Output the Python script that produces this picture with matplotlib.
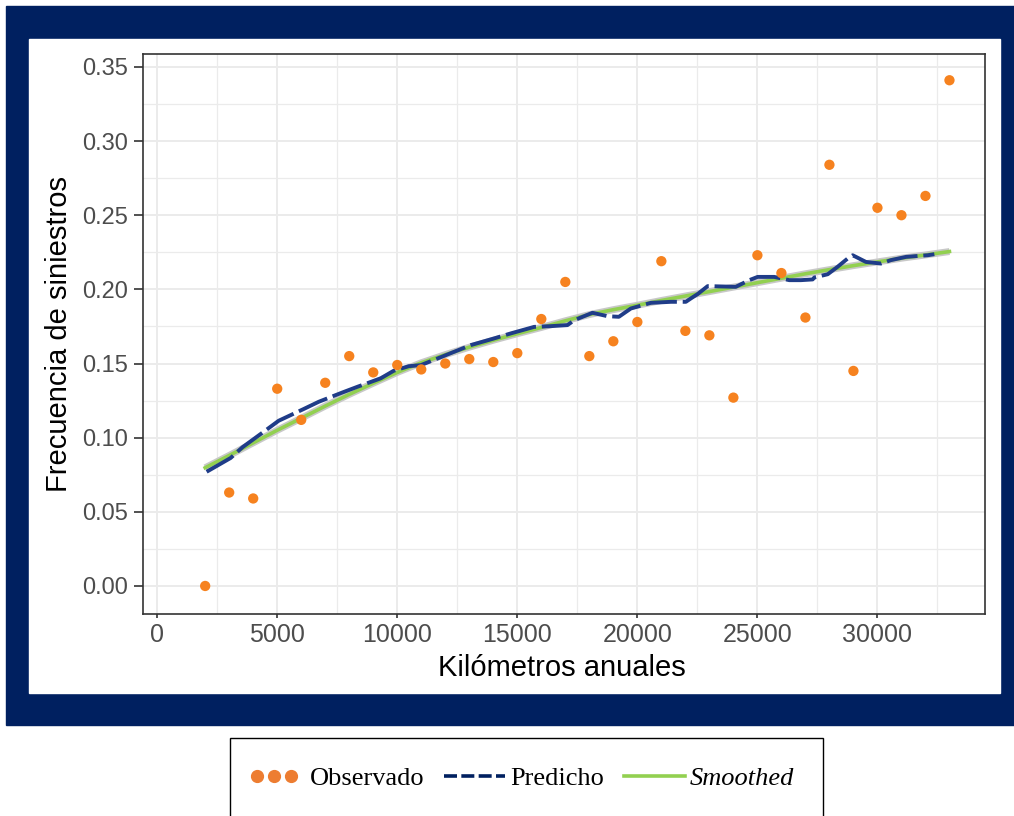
import matplotlib.pyplot as plt
from matplotlib.lines import Line2D
from matplotlib.patches import Rectangle
from matplotlib.legend_handler import HandlerLine2D

# observed frequency per km band
obs_km = [2000, 3000, 4000, 5000, 6000, 7000, 8000, 9000, 10000, 11000, 12000,
          13000, 14000, 15000, 16000, 17000, 18000, 19000, 20000, 21000, 22000,
          23000, 24000, 25000, 26000, 27000, 28000, 29000, 30000, 31000, 32000, 33000]
obs_freq = [0.000, 0.063, 0.059, 0.133, 0.112, 0.137, 0.155, 0.144, 0.149, 0.146, 0.150,
            0.153, 0.151, 0.157, 0.180, 0.205, 0.155, 0.165, 0.178, 0.219, 0.172,
            0.169, 0.127, 0.223, 0.211, 0.181, 0.284, 0.145, 0.255, 0.250, 0.263, 0.341]

# model prediction
pred_km = [2060, 3060, 3550, 4440, 5060, 6100, 6730, 7720, 8340, 9310, 9850, 10480,
           10980, 11680, 13060, 14030, 14730, 15700, 16400, 17090, 17370, 18130,
           18760, 19230, 19730, 20560, 21400, 22020, 22230, 22510, 22930, 24100,
           24660, 25010, 25700, 26330, 26810, 27300, 27370, 27930, 28340, 28760,
           28970, 29520, 30150, 30560, 31190, 32090, 32370]
pred_freq = [0.0770, 0.0863, 0.0935, 0.1040, 0.1114, 0.1193, 0.1242, 0.1305, 0.1343,
             0.1400, 0.1451, 0.1482, 0.1489, 0.1534, 0.1624, 0.1669, 0.1703, 0.1747,
             0.1752, 0.1759, 0.1792, 0.1842, 0.1819, 0.1815, 0.1871, 0.1909, 0.1916,
             0.1916, 0.1939, 0.1968, 0.2022, 0.2017, 0.2062, 0.2084, 0.2084, 0.2062,
             0.2062, 0.2067, 0.2080, 0.2102, 0.2152, 0.2208, 0.2230, 0.2185, 0.2174,
             0.2197, 0.2219, 0.2230, 0.2237]

# smoothed curve
smooth_km = [2000, 3000, 4000, 5000, 6000, 7000, 8000, 9000, 10000, 11000, 12000,
             13000, 14000, 15000, 16000, 17000, 18000, 19000, 20000, 21000, 22000,
             23000, 24000, 25000, 26000, 27000, 28000, 29000, 30000, 31000, 32000, 33000]
smooth_freq = [0.0797, 0.0880, 0.0965, 0.1050, 0.1131, 0.1213, 0.1292, 0.1367, 0.1440,
               0.1505, 0.1560, 0.1610, 0.1657, 0.1701, 0.1743, 0.1788, 0.1830, 0.1863,
               0.1893, 0.1925, 0.1955, 0.1985, 0.2015, 0.2045, 0.2075, 0.2105, 0.2133,
               0.2160, 0.2185, 0.2210, 0.2232, 0.2255]

x_ticks = [0, 5000, 10000, 15000, 20000, 25000, 30000]
y_ticks = [0.00, 0.05, 0.10, 0.15, 0.20, 0.25, 0.30, 0.35]

W, H = 1014, 816
fig = plt.figure(figsize=(W / 100, H / 100), dpi=100)

# navy frame and white inner panel
fig.patches.append(Rectangle((6 / W, 1 - 725 / H), 1 - 6 / W, (725 - 6) / H,
                             transform=fig.transFigure, color='#002060', zorder=-2))
fig.patches.append(Rectangle((29 / W, 1 - 693 / H), (1000 - 29) / W, (693 - 39) / H,
                             transform=fig.transFigure, color='white', zorder=-1))

ax = fig.add_axes([143 / W, 1 - 614 / H, (985 - 143) / W, (614 - 54) / H])
ax.set_zorder(3)
ax.set_facecolor('white')

ax.plot(smooth_km, smooth_freq, color='#c8c8c8', linewidth=5, solid_capstyle='butt', zorder=2)
ax.plot(smooth_km, smooth_freq, color='#92D050', linewidth=2.6, zorder=3)
ax.plot(pred_km, pred_freq, color='#1F3C88', linewidth=2.8, linestyle=(0, (8, 1.5)), zorder=4)
ax.scatter(obs_km, obs_freq, s=55, color='#F6821F', edgecolors='none', zorder=5)

ax.set_xlim(-590, 34480)
ax.set_ylim(-0.0189, 0.3587)
ax.set_xticks(x_ticks)
ax.set_yticks(y_ticks)
ax.set_yticklabels([f'{v:.2f}' for v in y_ticks])
ax.set_xticks([2500, 7500, 12500, 17500, 22500, 27500, 32500], minor=True)
ax.set_yticks([0.025, 0.075, 0.125, 0.175, 0.225, 0.275, 0.325], minor=True)
ax.grid(True, which='major', color='#EBEBEB', linewidth=1.4, zorder=0)
ax.grid(True, which='minor', color='#EBEBEB', linewidth=0.9, zorder=0)
ax.set_axisbelow(True)
ax.tick_params(axis='x', which='major', length=3.2, width=1.2, color='#333333', pad=3.5,
               labelsize=18, labelcolor='#4D4D4D')
ax.tick_params(axis='y', which='major', length=6.5, width=1.2, color='#333333', pad=4.3,
               labelsize=17, labelcolor='#4D4D4D')
ax.tick_params(which='minor', length=0)
for lab in ax.get_xticklabels() + ax.get_yticklabels():
    lab.set_family('Liberation Sans')
for s in ax.spines.values():
    s.set_color('#333333')
    s.set_linewidth(1.2)

ax.set_xlabel('Kilómetros anuales', family='Liberation Sans', fontsize=21)
ax.set_ylabel('Frecuencia de siniestros', family='Liberation Sans', fontsize=21)
ax.xaxis.set_label_coords(0.4976, -0.0714)
ax.yaxis.set_label_coords(-0.0835, 0.5)

# legend below the frame
fig.patches.append(Rectangle((230 / W, 1 - 820 / H), (823 - 230) / W, (820 - 738) / H,
                             transform=fig.transFigure, facecolor='white',
                             edgecolor='black', linewidth=1, zorder=1))
h_obs = Line2D([], [], linestyle='none', marker='o', markersize=8.5, color='#ED7D31')
h_pred = Line2D([], [], color='#002060', linewidth=2.6, linestyle=(0, (3.6, 1.2)))
h_smooth = Line2D([], [], color='#92D050', linewidth=2.6)
leg = fig.legend([h_obs, h_pred, h_smooth], ['Observado', 'Predicho', 'Smoothed'],
                 loc='center', bbox_to_anchor=(519 / W, 1 - 778 / H), ncol=3,
                 frameon=False, prop={'family': 'Liberation Serif', 'size': 19},
                 handlelength=2.3, handletextpad=0.2, columnspacing=0.75,
                 handler_map={h_obs: HandlerLine2D(numpoints=3, marker_pad=0.5)})
leg.get_texts()[2].set_fontstyle('italic')

fig.savefig('out.png', dpi=100)
